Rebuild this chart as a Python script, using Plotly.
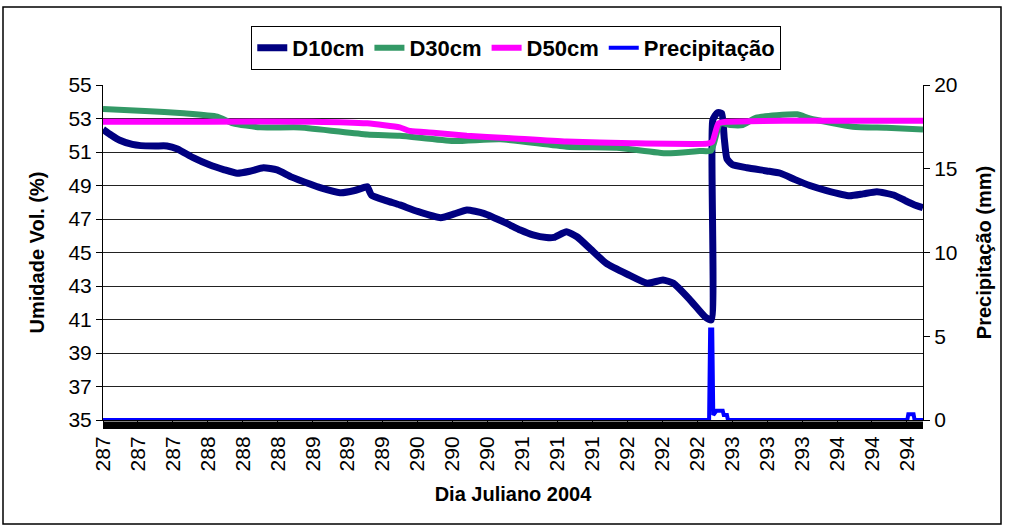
import plotly.graph_objects as go

# ---------------- data ----------------
d10_day = [287.0, 287.08, 287.16, 287.28, 287.36, 287.5, 287.61, 287.71, 287.86, 288.02,
           288.15, 288.28, 288.4, 288.53, 288.66, 288.8, 288.98, 289.07, 289.26, 289.4,
           289.5, 289.52, 289.56, 289.7, 289.83, 290.0, 290.22, 290.35, 290.47, 290.63,
           290.85, 290.98, 291.1, 291.23, 291.3, 291.42, 291.52, 291.65, 291.8, 292.0,
           292.19, 292.34, 292.44, 292.6, 292.74, 292.8, 292.815, 292.86, 292.9, 292.925,
           292.95, 293.0, 293.14, 293.33, 293.46, 293.6, 293.74, 293.9, 294.12, 294.25,
           294.38, 294.54, 294.65, 294.73, 294.82]
d10_val = [52.35, 52.0, 51.7, 51.45, 51.38, 51.36, 51.36, 51.18, 50.66, 50.22,
           49.95, 49.73, 49.85, 50.06, 49.93, 49.5, 49.07, 48.87, 48.57, 48.7,
           48.9, 48.93, 48.43, 48.1, 47.84, 47.45, 47.08, 47.3, 47.54, 47.34,
           46.74, 46.34, 46.05, 45.89, 45.9, 46.24, 45.94, 45.2, 44.35, 43.7,
           43.16, 43.36, 43.16, 42.16, 41.17, 40.97, 52.9, 53.35, 53.3, 51.8,
           50.6, 50.25, 50.06, 49.87, 49.73, 49.35, 49.0, 48.7, 48.39, 48.5,
           48.63, 48.43, 48.1, 47.87, 47.67]

d30_day = [287.0, 287.4, 287.77, 288.09, 288.24, 288.5, 288.88, 289.52, 289.83, 290.34,
           290.79, 291.42, 291.9, 292.38, 292.69, 292.8, 292.885, 292.98, 293.1, 293.23,
           293.62, 293.74, 294.15, 294.47, 294.82]
d30_val = [53.57, 53.45, 53.31, 53.11, 52.71, 52.47, 52.47, 52.05, 51.97, 51.66,
           51.76, 51.32, 51.26, 50.92, 51.06, 51.08, 52.71, 52.61, 52.61, 53.05,
           53.25, 53.0, 52.51, 52.45, 52.35]

d50_day = [287.0, 288.0, 289.0, 289.52, 289.83, 289.93, 290.15, 290.47, 290.85, 291.42,
           292.05, 292.76, 292.81, 292.87, 292.95, 293.5, 294.82]
d50_val = [52.81, 52.81, 52.81, 52.71, 52.47, 52.25, 52.15, 51.97, 51.84, 51.62,
           51.52, 51.5, 51.6, 52.71, 52.81, 52.87, 52.87]

prec_day = [287.0, 292.78, 292.79, 292.81, 292.82, 292.85, 292.91, 292.92, 292.95, 292.96,
            294.67, 294.68, 294.73, 294.74, 294.82]
prec_val = [0.0, 0.0, 5.4, 5.4, 0.3, 0.55, 0.55, 0.3, 0.3, 0.0,
            0.0, 0.35, 0.35, 0.0, 0.0]

tick_pos = [287 + k / 3 for k in range(24)]
tick_txt = [str(int(v + 1e-9)) for v in tick_pos]

FONT = "Liberation Sans, Arial, sans-serif"

fig = go.Figure()
fig.add_trace(go.Scatter(x=d10_day, y=d10_val, name="D10cm", mode="lines",
                         line=dict(color="#000080", width=7, shape="spline", smoothing=0.5)))
fig.add_trace(go.Scatter(x=d30_day, y=d30_val, name="D30cm", mode="lines",
                         line=dict(color="#339966", width=6, shape="spline", smoothing=0.5)))
fig.add_trace(go.Scatter(x=d50_day, y=d50_val, name="D50cm", mode="lines",
                         line=dict(color="#FF00FF", width=6, shape="spline", smoothing=0.5)))
fig.add_trace(go.Scatter(x=prec_day, y=prec_val, name="Precipitação", mode="lines",
                         line=dict(color="#0000FF", width=4), yaxis="y2"))

fig.update_layout(
    width=1009, height=526,
    margin=dict(l=103, r=86, t=85, b=106),
    paper_bgcolor="white", plot_bgcolor="white",
    font=dict(family=FONT, color="black", size=21),
    showlegend=True,
    legend=dict(orientation="h", x=0.504, xanchor="center", y=1.176, yanchor="top",
                bordercolor="black", borderwidth=1, bgcolor="white",
                itemwidth=30, tracegroupgap=0,
                font=dict(family=FONT, size=22, weight="bold")),
    xaxis=dict(range=[287.0, 294.82], tickmode="array", tickvals=tick_pos, ticktext=tick_txt,
               tickangle=-90, ticks="outside", ticklen=7, tickcolor="black",
               showgrid=False, zeroline=False, showline=True, linecolor="black", linewidth=1,
               tickfont=dict(size=21),
               title=dict(text="Dia Juliano 2004", font=dict(size=20, weight="bold"), standoff=16)),
    yaxis=dict(range=[35, 55], tickmode="linear", tick0=35, dtick=2,
               ticks="outside", ticklen=6, tickcolor="black",
               showgrid=True, gridcolor="#222222", gridwidth=1, zeroline=False,
               showline=True, linecolor="black", linewidth=1,
               tickfont=dict(size=21),
               title=dict(text="Umidade Vol. (%)", font=dict(size=20, weight="bold"), standoff=18)),
    yaxis2=dict(range=[0, 20], tickmode="linear", tick0=0, dtick=5, overlaying="y", side="right",
                ticks="outside", ticklen=6, tickcolor="black", showgrid=False, zeroline=False,
                showline=True, linecolor="black", linewidth=1,
                tickfont=dict(size=21),
                title=dict(text="Precipitação (mm)", font=dict(size=20, weight="bold"), standoff=20)),
    shapes=[
        dict(type="rect", xref="paper", yref="paper",
             x0=(3 - 103) / 820, x1=(1001 - 103) / 820,
             y0=(420 - 524) / 335, y1=(420 - 7) / 335,
             line=dict(color="black", width=1.5), fillcolor="rgba(0,0,0,0)", layer="below"),
        # dense category tick band under the x axis
        dict(type="rect", xref="paper", yref="paper",
             x0=0, x1=1, y0=(420 - 429) / 335, y1=(420 - 421.5) / 335,
             line=dict(width=0), fillcolor="black", layer="above"),
    ],
)

fig.write_html("out.html", config={"displayModeBar": False},
               post_script="document.body.style.margin='0';")
